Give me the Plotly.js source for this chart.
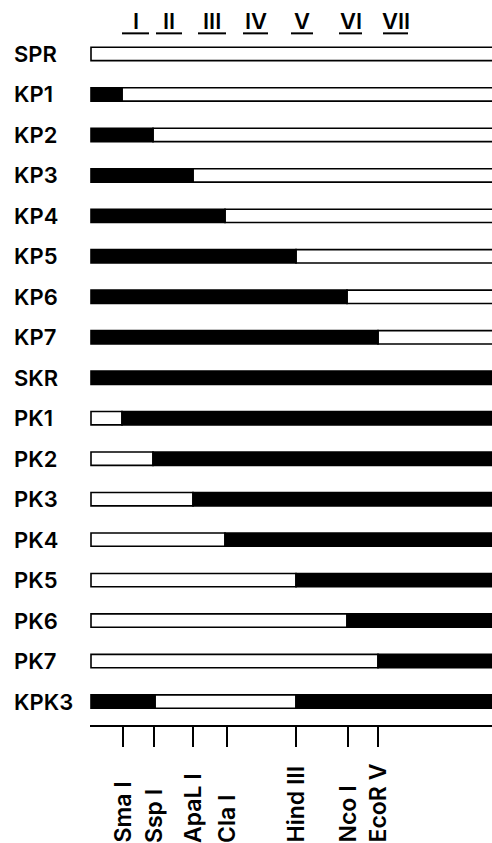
<!DOCTYPE html>
<html>
<head>
<meta charset="utf-8">
<script src="https://cdn.plot.ly/plotly-3.0.1.min.js"></script>
<style>html,body{margin:0;padding:0;background:#fff;}#chart{width:492px;height:843px;}</style>
</head>
<body>
<div id="chart"></div>
<script>
// Constructs (rows, top to bottom)
const rows = ['SPR','KP1','KP2','KP3','KP4','KP5','KP6','KP7','SKR','PK1','PK2','PK3','PK4','PK5','PK6','PK7','KPK3'];
// Origin of each segment along the gene: K = SKR-derived (black), P = SPR-derived (white)
const origins = ['P','KP','KP','KP','KP','KP','KP','KP','K','PK','PK','PK','PK','PK','PK','PK','KPK'];
// Junction positions (map units) between segments of each construct
const junctions = [[],[31],[62],[102],[134],[205],[256],[287],[],[31],[62],[102],[134],[205],[256],[287],[64,205]];
const geneLength = 420;

// Restriction sites
const siteNames = ['Sma I','Ssp I','ApaL I','Cla I','Hind III','Nco I','EcoR V'];
const sitePos = [32, 63, 102, 136, 205, 257, 287];

// Conserved regions
const regionNames = ['I','II','III','IV','V','VI','VII'];
const regionStart = [31, 65, 107, 152, 200, 248, 292];
const regionEnd = [58, 91, 135, 177, 222, 271, 317];

// build segments
const seg = {K:{y:[],base:[],x:[]}, P:{y:[],base:[],x:[]}};
rows.forEach((r,i)=>{
  const b = [0].concat(junctions[i]).concat([geneLength]);
  for(let k=0;k<origins[i].length;k++){
    const o = origins[i][k];
    seg[o].y.push(r); seg[o].base.push(b[k]); seg[o].x.push(b[k+1]-b[k]);
  }
});

const barW = 0.33;
const traces = [
  {type:'bar', orientation:'h', y:seg.P.y, base:seg.P.base, x:seg.P.x, width:barW,
   marker:{color:'#ffffff', line:{color:'#000', width:1.6}}, hoverinfo:'skip'},
  {type:'bar', orientation:'h', y:seg.K.y, base:seg.K.base, x:seg.K.x, width:barW,
   marker:{color:'#000000', line:{color:'#000', width:1.6}}, hoverinfo:'skip'}
];

const rowFont = {family:'Inter, "Open Sans", sans-serif', size:22, color:'#000', weight:600};
const siteFont = {family:'Inter, "Open Sans", sans-serif', size:23, color:'#000', weight:600};
const annotations = [];
rows.forEach(r=>{
  annotations.push({xref:'paper', x:-0.194, xanchor:'left', yref:'y', y:r, yanchor:'middle',
    text:r, showarrow:false, font:rowFont});
});
siteNames.forEach((s,i)=>{
  annotations.push({xref:'x', x:sitePos[i], xanchor:'center', yref:'paper', y:-0.1655, yanchor:'bottom',
    text:s, textangle:-90, showarrow:false, font:siteFont});
});
const shapes = [];
regionNames.forEach((n,i)=>{
  annotations.push({xref:'x', x:(regionStart[i]+regionEnd[i])/2, xanchor:'center', yref:'paper', y:0.9717, yanchor:'middle',
    text:n, showarrow:false, font:{family:'Inter, "Open Sans", sans-serif', size:22, color:'#000', weight:600}});
  shapes.push({type:'line', xref:'x', yref:'paper', x0:regionStart[i], x1:regionEnd[i], y0:0.954, y1:0.954,
    line:{color:'#000', width:2}});
});

const layout = {
  width:492, height:843,
  margin:{l:90, r:0, t:0, b:118, pad:0},
  paper_bgcolor:'#fff', plot_bgcolor:'#fff',
  barmode:'overlay', showlegend:false,
  xaxis:{range:[-1,401], showgrid:false, zeroline:false, showline:true, linecolor:'#000', linewidth:2,
    ticks:'outside', ticklen:20, tickwidth:2, tickcolor:'#000', tickvals:sitePos, showticklabels:false, fixedrange:true},
  yaxis:{type:'category', categoryarray:rows, range:[16.58,-1.334], showgrid:false, zeroline:false,
    showline:false, showticklabels:false, ticks:'', fixedrange:true},
  annotations:annotations, shapes:shapes
};
Plotly.newPlot('chart', traces, layout, {displayModeBar:false, staticPlot:true});
</script>
</body>
</html>
